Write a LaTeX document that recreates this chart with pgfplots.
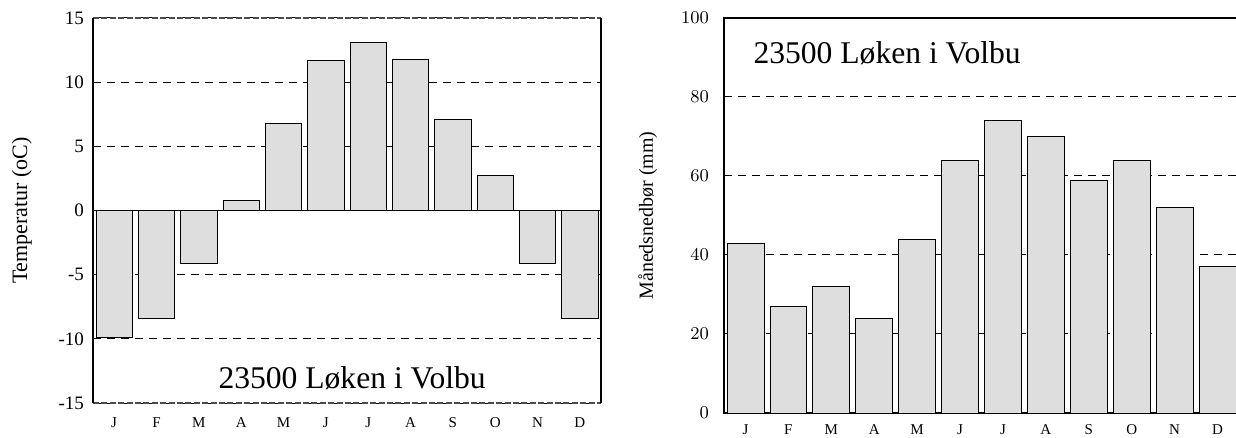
\documentclass[border=0pt]{standalone}
\usepackage{fontspec}
\setmainfont{Liberation Serif}
\usepackage{pgfplots}
\pgfplotsset{compat=1.18}
\definecolor{BarGray}{HTML}{DEDEDE}

\pgfplotsset{
  klima/.style={
    scale only axis,
    anchor=north west,
    xmin=0.5, xmax=12.5,
    xtick={1,...,12},
    xticklabels={J,F,M,A,M,J,J,A,S,O,N,D},
    major tick length=0pt,
    ymajorgrids,
    grid style={black, line width=0.5pt, dash pattern=on 4pt off 3pt},
    axis line style={black, line width=0.6pt},
    tick label style={font=\fontsize{9.5}{10}\selectfont},
    xticklabel style={font=\fontsize{7.5}{8}\selectfont, anchor=center},
    ylabel style={font=\fontsize{10}{11}\selectfont, rotate=0, anchor=center},
    ybar, bar width=0.86,
    cycle list={{fill=BarGray, draw=black, line width=0.6pt}},
  }
}

\begin{document}
\begin{tikzpicture}
\useasboundingbox (0,0) rectangle (618pt,-219pt);

% temperatur
\begin{axis}[klima,
  at={(46.5pt,-9pt)}, width=254pt, height=192.5pt,
  ymin=-15, ymax=15,
  ytick={-15,-10,-5,0,5,10,15},
  yticklabels={-15,-10,-5,0,5,10,15},
  yticklabel style={xshift=-1pt},
  xticklabel style={yshift=-10pt},
  ylabel={Temperatur (oC)},
  ylabel style={at={(axis description cs:-0.14,0.5)}, font=\fontsize{11}{12}\selectfont},
  separate axis lines,
  x axis line style={draw=gray!60!black, dash pattern=on 3pt off 1.2pt},
]
\addplot coordinates {(1,-9.9) (2,-8.4) (3,-4.1) (4,0.8) (5,6.8) (6,11.7) (7,13.1) (8,11.8) (9,7.1) (10,2.7) (11,-4.1) (12,-8.4)};
\draw[black, line width=0.7pt] (axis cs:0.5,0) -- (axis cs:12.5,0);
\node[font=\fontsize{15.8}{17}\selectfont] at (axis cs:6.62,-13.05) {23500 Løken i Volbu};
\end{axis}

% nedbør
\begin{axis}[klima,
  at={(362pt,-9pt)}, width=257.5pt, height=197.5pt,
  ymin=0, ymax=100,
  ytick={0,20,40,60,80,100},
  yticklabel style={xshift=-4pt},
  xticklabel style={yshift=-8.5pt},
  ylabel={Månedsnedbør (mm)},
  ylabel style={at={(axis description cs:-0.148,0.5)}},
]
\addplot coordinates {(1,43) (2,27) (3,32) (4,24) (5,44) (6,64) (7,74) (8,70) (9,59) (10,64) (11,52) (12,37)};
\node[font=\fontsize{15.8}{17}\selectfont] at (axis cs:4.3,91.1) {23500 Løken i Volbu};
\end{axis}
\end{tikzpicture}
\end{document}
